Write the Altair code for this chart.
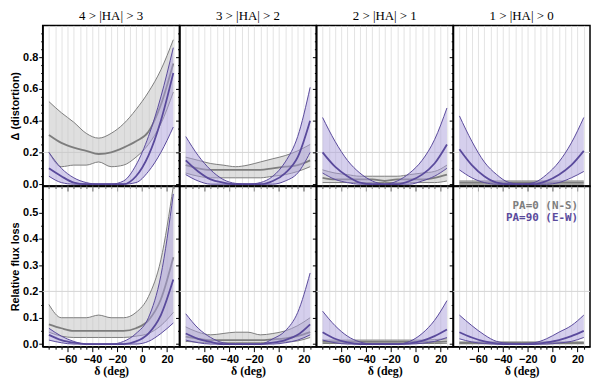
import altair as alt
import pandas as pd

# declination sample points (deg)
X = [-75, -65, -55, -45, -35, -25, -15, -5, 5, 15, 25]

COL_TITLES = ["4 > |HA| > 3", "3 > |HA| > 2", "2 > |HA| > 1", "1 > |HA| > 0"]
ROW_TITLES = ["Δ (distortion)", "Relative flux loss"]
LEGEND = ["PA=0 (N-S)", "PA=90 (E-W)"]

# ---- Row 0 : distortion ----
# 4 > |HA| > 3
d43_ns_hi = [0.52, 0.45, 0.39, 0.32, 0.29, 0.32, 0.38, 0.47, 0.58, 0.72, 0.91]
d43_ns_md = [0.31, 0.26, 0.23, 0.21, 0.19, 0.20, 0.23, 0.27, 0.33, 0.50, 0.76]
d43_ns_lo = [0.20, 0.11, 0.12, 0.12, 0.14, 0.11, 0.12, 0.17, 0.25, 0.38, 0.58]
d43_ew_hi = [0.20, 0.10, 0.04, 0.01, 0.00, 0.00, 0.02, 0.12, 0.30, 0.55, 0.86]
d43_ew_md = [0.10, 0.05, 0.01, 0.00, 0.00, 0.00, 0.00, 0.05, 0.18, 0.40, 0.70]
d43_ew_lo = [0.05, 0.01, 0.00, 0.00, 0.00, 0.00, 0.00, 0.01, 0.08, 0.20, 0.36]
# 3 > |HA| > 2
d32_ns_hi = [0.17, 0.15, 0.13, 0.12, 0.11, 0.12, 0.14, 0.16, 0.18, 0.21, 0.25]
d32_ns_md = [0.12, 0.10, 0.09, 0.09, 0.09, 0.09, 0.09, 0.10, 0.11, 0.12, 0.15]
d32_ns_lo = [0.07, 0.05, 0.04, 0.04, 0.04, 0.04, 0.04, 0.05, 0.06, 0.08, 0.11]
d32_ew_hi = [0.30, 0.18, 0.09, 0.03, 0.005, 0.00, 0.01, 0.05, 0.14, 0.30, 0.61]
d32_ew_md = [0.15, 0.08, 0.03, 0.01, 0.00, 0.00, 0.00, 0.02, 0.07, 0.17, 0.40]
d32_ew_lo = [0.06, 0.02, 0.00, 0.00, 0.00, 0.00, 0.00, 0.00, 0.02, 0.07, 0.20]
# 2 > |HA| > 1
d21_ns_hi = [0.09, 0.07, 0.06, 0.05, 0.05, 0.05, 0.05, 0.06, 0.07, 0.08, 0.12]
d21_ns_md = [0.04, 0.03, 0.03, 0.03, 0.03, 0.02, 0.03, 0.03, 0.03, 0.04, 0.06]
d21_ns_lo = [0.01, 0.01, 0.01, 0.01, 0.01, 0.01, 0.01, 0.01, 0.01, 0.01, 0.02]
d21_ew_hi = [0.42, 0.27, 0.15, 0.07, 0.02, 0.00, 0.02, 0.07, 0.15, 0.28, 0.48]
d21_ew_md = [0.20, 0.11, 0.05, 0.01, 0.00, 0.00, 0.00, 0.02, 0.06, 0.13, 0.25]
d21_ew_lo = [0.07, 0.03, 0.01, 0.00, 0.00, 0.00, 0.00, 0.00, 0.02, 0.05, 0.10]
# 1 > |HA| > 0
d10_ns_hi = [0.02, 0.02, 0.02, 0.02, 0.02, 0.02, 0.02, 0.02, 0.02, 0.02, 0.02]
d10_ns_md = [0.01, 0.01, 0.01, 0.01, 0.01, 0.01, 0.01, 0.01, 0.01, 0.01, 0.01]
d10_ns_lo = [0.00, 0.00, 0.00, 0.00, 0.00, 0.00, 0.00, 0.00, 0.00, 0.00, 0.00]
d10_ew_hi = [0.43, 0.27, 0.14, 0.06, 0.01, 0.00, 0.01, 0.06, 0.14, 0.26, 0.42]
d10_ew_md = [0.22, 0.12, 0.05, 0.01, 0.00, 0.00, 0.00, 0.02, 0.06, 0.12, 0.21]
d10_ew_lo = [0.09, 0.04, 0.01, 0.00, 0.00, 0.00, 0.00, 0.00, 0.01, 0.04, 0.08]

# ---- Row 1 : relative flux loss ----
f43_ns_hi = [0.15, 0.10, 0.10, 0.10, 0.11, 0.10, 0.10, 0.12, 0.18, 0.32, 0.60]
f43_ns_md = [0.075, 0.06, 0.05, 0.05, 0.05, 0.05, 0.05, 0.06, 0.09, 0.17, 0.33]
f43_ns_lo = [0.045, 0.03, 0.025, 0.025, 0.025, 0.025, 0.025, 0.03, 0.04, 0.07, 0.12]
f43_ew_hi = [0.06, 0.03, 0.01, 0.00, 0.00, 0.00, 0.01, 0.04, 0.10, 0.26, 0.57]
f43_ew_md = [0.035, 0.015, 0.005, 0.00, 0.00, 0.00, 0.00, 0.01, 0.04, 0.11, 0.245]
f43_ew_lo = [0.015, 0.005, 0.00, 0.00, 0.00, 0.00, 0.00, 0.00, 0.01, 0.04, 0.08]

f32_ns_hi = [0.065, 0.045, 0.035, 0.04, 0.045, 0.045, 0.035, 0.04, 0.05, 0.07, 0.10]
f32_ns_md = [0.028, 0.02, 0.015, 0.015, 0.015, 0.015, 0.015, 0.018, 0.022, 0.03, 0.045]
f32_ns_lo = [0.01, 0.007, 0.005, 0.005, 0.005, 0.005, 0.005, 0.006, 0.008, 0.012, 0.025]
f32_ew_hi = [0.115, 0.06, 0.025, 0.005, 0.00, 0.00, 0.00, 0.02, 0.05, 0.12, 0.27]
f32_ew_md = [0.04, 0.02, 0.008, 0.00, 0.00, 0.00, 0.00, 0.005, 0.015, 0.035, 0.075]
f32_ew_lo = [0.015, 0.005, 0.00, 0.00, 0.00, 0.00, 0.00, 0.00, 0.005, 0.015, 0.035]

f21_ns_hi = [0.015, 0.015, 0.015, 0.015, 0.015, 0.015, 0.015, 0.015, 0.015, 0.017, 0.02]
f21_ns_md = [0.008, 0.008, 0.008, 0.008, 0.008, 0.008, 0.008, 0.008, 0.008, 0.008, 0.01]
f21_ns_lo = [0.002, 0.002, 0.002, 0.002, 0.002, 0.002, 0.002, 0.002, 0.002, 0.002, 0.003]
f21_ew_hi = [0.125, 0.07, 0.03, 0.008, 0.00, 0.00, 0.00, 0.01, 0.04, 0.09, 0.165]
f21_ew_md = [0.045, 0.02, 0.006, 0.00, 0.00, 0.00, 0.00, 0.003, 0.012, 0.03, 0.055]
f21_ew_lo = [0.015, 0.005, 0.00, 0.00, 0.00, 0.00, 0.00, 0.00, 0.003, 0.01, 0.025]

f10_ns_hi = [0.008, 0.008, 0.008, 0.008, 0.008, 0.008, 0.008, 0.008, 0.008, 0.008, 0.008]
f10_ns_md = [0.004, 0.004, 0.004, 0.004, 0.004, 0.004, 0.004, 0.004, 0.004, 0.004, 0.004]
f10_ns_lo = [0.001, 0.001, 0.001, 0.001, 0.001, 0.001, 0.001, 0.001, 0.001, 0.001, 0.001]
f10_ew_hi = [0.11, 0.07, 0.035, 0.01, 0.003, 0.002, 0.005, 0.02, 0.045, 0.07, 0.11]
f10_ew_md = [0.045, 0.025, 0.01, 0.002, 0.00, 0.00, 0.00, 0.006, 0.015, 0.03, 0.05]
f10_ew_lo = [0.02, 0.008, 0.002, 0.00, 0.00, 0.00, 0.00, 0.00, 0.004, 0.01, 0.025]

GRID_Y = [0.2]

SERIES = [
    (0, 0, "NS", d43_ns_lo, d43_ns_md, d43_ns_hi), (0, 0, "EW", d43_ew_lo, d43_ew_md, d43_ew_hi),
    (0, 1, "NS", d32_ns_lo, d32_ns_md, d32_ns_hi), (0, 1, "EW", d32_ew_lo, d32_ew_md, d32_ew_hi),
    (0, 2, "NS", d21_ns_lo, d21_ns_md, d21_ns_hi), (0, 2, "EW", d21_ew_lo, d21_ew_md, d21_ew_hi),
    (0, 3, "NS", d10_ns_lo, d10_ns_md, d10_ns_hi), (0, 3, "EW", d10_ew_lo, d10_ew_md, d10_ew_hi),
    (1, 0, "NS", f43_ns_lo, f43_ns_md, f43_ns_hi), (1, 0, "EW", f43_ew_lo, f43_ew_md, f43_ew_hi),
    (1, 1, "NS", f32_ns_lo, f32_ns_md, f32_ns_hi), (1, 1, "EW", f32_ew_lo, f32_ew_md, f32_ew_hi),
    (1, 2, "NS", f21_ns_lo, f21_ns_md, f21_ns_hi), (1, 2, "EW", f21_ew_lo, f21_ew_md, f21_ew_hi),
    (1, 3, "NS", f10_ns_lo, f10_ns_md, f10_ns_hi), (1, 3, "EW", f10_ew_lo, f10_ew_md, f10_ew_hi),
]

recs = []
for r, c, pa, lo, md, hi in SERIES:
    for i, x in enumerate(X):
        recs.append({"row": r, "col": c, "pa": pa, "x": x, "lo": lo[i], "mid": md[i], "hi": hi[i]})
df = pd.DataFrame(recs)

GRAY_LINE = "#7d7d7d"
GRAY_FILL = "#c4c4c4"
PURP_LINE = "#5a4a9c"
PURP_FILL = "#ab9fdc"

W, H = 138, 162
YDOM = [[-0.012, 1.0], [-0.01, 0.6]]
YVALS = [[round(v * 0.05, 2) for v in range(0, 20)], [round(v * 0.05, 2) for v in range(0, 12)]]
YMAJ = ["abs(datum.value*5 - round(datum.value*5)) < 0.001",
        "abs(datum.value*10 - round(datum.value*10)) < 0.001"]


def panel(r, c):
    sub = df[(df.row == r) & (df.col == c)]
    xaxis = alt.Axis(
        values=list(range(-75, 30, 5)), grid=True, gridColor="#dcdcdc", gridWidth=0.8,
        labels=(r == 1), labelExpr="datum.value % 20 === 0 ? datum.label : ''",
        tickSize={"condition": {"test": "datum.value % 20 === 0", "value": 5}, "value": 2.5},
        labelPadding=2, titlePadding=1, titleFont="Liberation Serif", titleFontSize=12,
    )
    xtitle = "δ (deg)" if r == 1 else ""
    yaxis = alt.Axis(
        values=YVALS[r], grid=False, labels=(c == 0),
        labelExpr=YMAJ[r] + " ? format(datum.value, '.1f') : ''",
        tickSize={"condition": {"test": YMAJ[r], "value": 4}, "value": 2},
        labelPadding=1, titlePadding=2,
    )
    ytitle = ROW_TITLES[r] if c == 0 else ""
    xs = alt.Scale(domain=[-80, 30], nice=False, zero=False)
    ys = alt.Scale(domain=YDOM[r], nice=False, zero=False)
    X_ = alt.X("x:Q", scale=xs, axis=xaxis, title=xtitle)

    def Y_(f):
        return alt.Y(f + ":Q", scale=ys, axis=yaxis, title=ytitle)

    rule = alt.Chart(pd.DataFrame({"g": GRID_Y})).mark_rule(color="#d4d4d4", strokeWidth=1).encode(y=Y_("g"))
    layers = [rule]
    for pa in ["NS", "EW"]:
        s = alt.Chart(sub[sub.pa == pa])
        fc = GRAY_FILL if pa == "NS" else PURP_FILL
        lc = GRAY_LINE if pa == "NS" else PURP_LINE
        op = 0.55 if pa == "NS" else 0.5
        layers.append(s.mark_area(clip=True, color=fc, opacity=op, interpolate="monotone")
                      .encode(x=X_, y=Y_("lo"), y2="hi:Q"))
        for f, sw in [("lo", 1.0), ("hi", 1.0), ("mid", 1.8)]:
            layers.append(s.mark_line(clip=True, color=lc, strokeWidth=sw, interpolate="monotone")
                          .encode(x=X_, y=Y_(f)))
    if r == 1 and c == 3:
        for i, (txt, colr) in enumerate(zip(LEGEND, [GRAY_LINE, PURP_LINE])):
            layers.append(
                alt.Chart(pd.DataFrame({"t": [txt]})).mark_text(
                    align="right", baseline="middle", font="DejaVu Sans Mono", fontWeight="bold",
                    fontSize=11, color=colr)
                .encode(text="t:N", x=alt.value(W - 12), y=alt.value(20 + 12 * i))
            )
    ch = alt.layer(*layers).properties(width=W, height=H)
    if r == 0:
        ch = ch.properties(title=alt.TitleParams(COL_TITLES[c]))
    return ch


panels = [panel(r, c) for r in range(2) for c in range(4)]
chart = alt.concat(*panels, columns=4, spacing=0, bounds="flush").properties(
    padding={"left": 0, "top": 0, "right": 0, "bottom": 0}
).configure_view(
    stroke="black", strokeWidth=1.5
).configure_axis(
    domainColor="black", domainWidth=1.2, tickColor="black", tickWidth=1,
    labelFont="Liberation Sans", labelFontWeight="bold", labelFontSize=11, labelColor="black",
    titleFont="Liberation Sans", titleFontWeight="bold", titleFontSize=11, titleColor="black",
).configure_title(
    font="Liberation Serif", fontSize=13, fontWeight="normal", color="black", offset=2
)

chart.save("out.html", embed_options={"renderer": "svg", "actions": False})
